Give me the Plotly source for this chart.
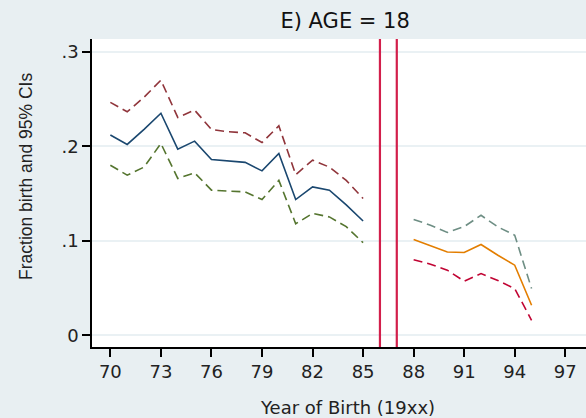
import plotly.graph_objects as go

# Birth cohorts before and after the policy window
years_a = list(range(1970, 1986))
mean_a = [0.212, 0.202, 0.218, 0.235, 0.197, 0.2055, 0.186, 0.1846, 0.183, 0.174,
          0.1924, 0.1437, 0.157, 0.1536, 0.138, 0.121]
upper_a = [0.2465, 0.2366, 0.252, 0.270, 0.2306, 0.2383, 0.2179, 0.2154, 0.2143, 0.204,
           0.2217, 0.170, 0.1854, 0.178, 0.164, 0.1448]
lower_a = [0.180, 0.1695, 0.178, 0.203, 0.166, 0.172, 0.1536, 0.153, 0.1518, 0.1437,
           0.164, 0.118, 0.129, 0.1253, 0.115, 0.098]

years_b = list(range(1988, 1996))
mean_b = [0.1014, 0.0946, 0.0882, 0.0876, 0.0961, 0.0847, 0.0742, 0.0318]
upper_b = [0.1226, 0.1165, 0.1088, 0.115, 0.127, 0.1147, 0.1059, 0.0494]
lower_b = [0.080, 0.0752, 0.0689, 0.0572, 0.0653, 0.058, 0.0494, 0.0159]

cutoff_years = [86, 87]
x_ticks = list(range(70, 98, 3))
y_ticks = [0, 0.1, 0.2, 0.3]
y_tick_text = ["0", ".1", ".2", ".3"]

def yy(years):
    return [y - 1900 for y in years]

DASH = "9px,5px"
fig = go.Figure()

series = [
    (years_a, upper_a, "#90353b", DASH),
    (years_a, lower_a, "#55752f", DASH),
    (years_a, mean_a, "#1a476f", "solid"),
    (years_b, upper_b, "#6e8e84", DASH),
    (years_b, lower_b, "#c10534", DASH),
    (years_b, mean_b, "#e37e00", "solid"),
]
for yrs, vals, col, dash in series:
    fig.add_trace(go.Scatter(x=yy(yrs), y=vals, mode="lines",
                             line=dict(color=col, width=1.6, dash=dash),
                             showlegend=False, hoverinfo="skip"))

for cx in cutoff_years:
    fig.add_shape(type="line", xref="x", yref="paper", x0=cx, x1=cx, y0=0, y1=1,
                  line=dict(color="#d21f4b", width=2.2))

wide = "DejaVu Sans, Verdana, sans-serif"
narrow = "Liberation Sans, Arial, sans-serif"

fig.add_annotation(text="Year of Birth (19xx)", xref="paper", yref="paper",
                   x=0.518, y=-0.198, xanchor="center", yanchor="middle",
                   showarrow=False, font=dict(family=wide, size=18, color="#222222"))
fig.add_annotation(text="Fraction birth and 95% CIs", xref="paper", yref="paper",
                   x=-0.1336, y=0.552, xanchor="center", yanchor="middle", textangle=-90,
                   showarrow=False, font=dict(family=narrow, size=17.5, color="#222222"))

fig.update_layout(
    width=586, height=418,
    margin=dict(l=92, r=0, t=39, b=71),
    paper_bgcolor="#e8eff2",
    plot_bgcolor="#ffffff",
    font=dict(family=wide, color="#222222", size=18),
    title=dict(text="E) AGE = 18", x=0.589, xanchor="center", y=0.95, yanchor="middle",
               font=dict(family=wide, size=21, color="#111111")),
    xaxis=dict(range=[68.91, 98.23], tickmode="array", tickvals=x_ticks,
               showgrid=False, zeroline=False,
               showline=True, linecolor="#000000", linewidth=1.5,
               ticks="outside", ticklen=8, tickwidth=1.5, tickcolor="#000000",
               tickfont=dict(size=18)),
    yaxis=dict(range=[-0.0124, 0.3136], tickmode="array", tickvals=y_ticks,
               ticktext=y_tick_text,
               showgrid=True, gridcolor="#eaf1f4", gridwidth=1.5, zeroline=False,
               showline=True, linecolor="#000000", linewidth=1.5,
               ticks="outside", ticklen=8, tickwidth=1.5, tickcolor="#000000",
               tickfont=dict(size=18)),
)

fig.write_html("out.html")
